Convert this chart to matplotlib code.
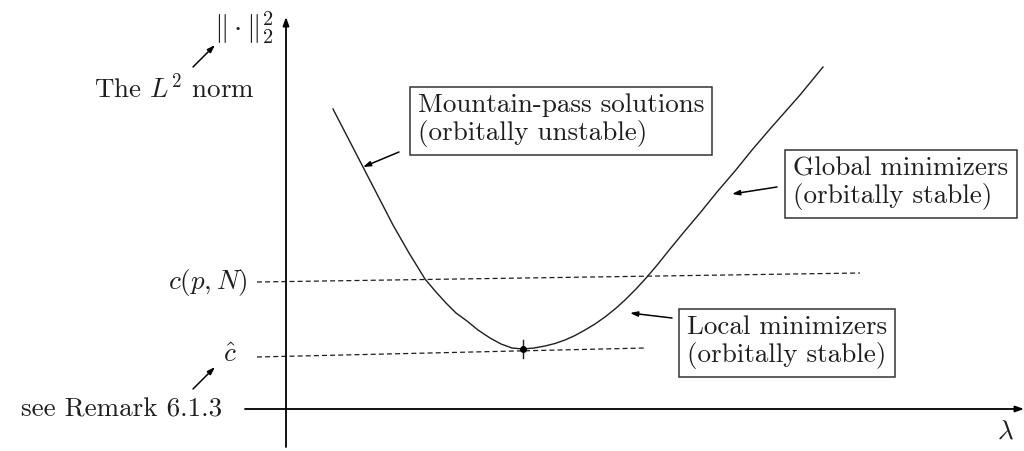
import numpy as np
from matplotlib import pyplot as plt

plt.rcParams['mathtext.fontset'] = 'cm'
plt.rcParams['font.family'] = ['cmr10', 'DejaVu Serif']
plt.rcParams['axes.unicode_minus'] = False

# 曲线 (lambda, ||.||_2^2), 从图上读出来的点, 原点在坐标轴交点
lam = [47, 62, 77, 92, 107, 123, 139, 150, 160, 170, 181, 192, 204, 215, 226, 237,
       248, 259, 269, 279, 289, 299, 309, 319, 329, 339, 350, 361, 372, 384,
       398, 414, 431, 449, 466, 484, 499, 514, 537]
norm = [300, 271, 242, 213, 184, 156, 130, 117, 106, 96, 88, 79, 71, 65, 61, 60,
        61, 63, 65.5, 69, 73.5, 79, 85, 92, 100, 109, 120, 132, 145, 160,
        177, 196, 217, 238, 259, 280, 297, 314, 342]

# 两条虚线水平: c(p,N) 和 c_hat, 两端的值 (稍微有点斜)
c_pn_x = [-29, 574]
c_pn_y = [127, 136]
c_hat_x = [-29, 359]
c_hat_y = [52, 61]

# 极小值点
min_lam, min_norm = 237, 60

# 三个方框的文字
labels = ["Mountain-pass solutions\n(orbitally unstable)",
          "Global minimizers\n(orbitally stable)",
          "Local minimizers\n(orbitally stable)"]
label_pos = [(275, 289), (615, 226), (501, 67)]
# 箭头 (尾, 头)
label_arrows = [((113, 257), (77, 242)),
                ((491, 222), (446, 215)),
                ((386, 91), (344, 96))]

ink = "#1e1e1e"
fs = 19.5
arrow = dict(arrowstyle="-|>,head_length=0.45,head_width=0.15", color="black", lw=1.1,
             shrinkA=0, shrinkB=0)

fig = plt.figure(figsize=(10.24, 4.51), dpi=100)
ax = fig.add_axes([0, 0, 1, 1])
ax.set_xlim(-286, 738)
ax.set_ylim(-42, 409)
ax.axis("off")

# 坐标轴
axis_arrow = dict(arrowstyle="-|>,head_length=0.5,head_width=0.18", color="black", lw=1.3,
                  shrinkA=0, shrinkB=0)
ax.annotate("", xy=(0, 392), xytext=(0, -38), arrowprops=axis_arrow)
ax.annotate("", xy=(738, 0), xytext=(-41, 0), arrowprops=axis_arrow)

# 虚线
ax.plot(c_pn_x, c_pn_y, ls=(0, (4, 2.5)), color=ink, lw=0.9)
ax.plot(c_hat_x, c_hat_y, ls=(0, (4, 2.5)), color=ink, lw=0.9)

# 曲线
ax.plot(lam, norm, color=ink, lw=1.0, solid_joinstyle="round")
ax.plot([min_lam, min_lam], [min_norm - 9, min_norm + 9], color=ink, lw=1.0)
ax.plot(min_lam, min_norm, "o", color="black", ms=4)

# 方框和箭头
for s, (x, y), (tail, head) in zip(labels, label_pos, label_arrows):
    ax.text(x, y, s, ha="center", va="center", multialignment="left", fontsize=fs, color=ink,
            linespacing=1.12,
            bbox=dict(boxstyle="square,pad=0.3", fc="white", ec="#333333", lw=1.1))
    ax.annotate("", xy=head, xytext=tail, arrowprops=arrow)

# 左边的文字
ax.text(-42, 381, r"$\|\cdot\|_2^2$", ha="center", va="center", fontsize=21, color=ink)
ax.text(-112, 321, r"The $L^2$ norm", ha="center", va="center", fontsize=fs, color=ink)
ax.annotate("", xy=(-71, 364), xytext=(-93, 342), arrowprops=arrow)
ax.text(-38, 127, r"$c(p,N)$", ha="right", va="center", fontsize=fs, color=ink)
ax.text(-56, 54, r"$\hat{c}$", ha="center", va="center", fontsize=fs, color=ink)
ax.text(-64, -1, "see Remark 6.1.3", ha="right", va="center", fontsize=fs, color=ink)
ax.annotate("", xy=(-71, 42), xytext=(-93, 20), arrowprops=arrow)
ax.text(719, -23, r"$\lambda$", ha="center", va="center", fontsize=fs, color=ink)

fig.savefig("out.png", dpi=100, facecolor="white")
